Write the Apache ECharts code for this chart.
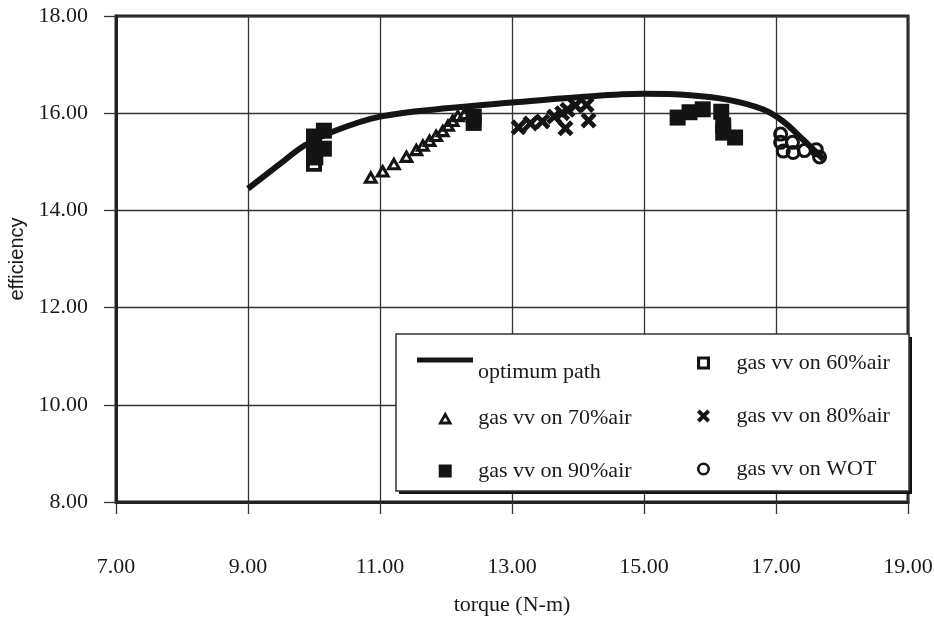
<!DOCTYPE html>
<html>
<head>
<meta charset="utf-8">
<script src="https://cdn.jsdelivr.net/npm/echarts@6/dist/echarts.min.js"></script>
<style>
  html, body { margin: 0; padding: 0; background: #fff; }
  #chart { width: 934px; height: 637px; }
</style>
</head>
<body>
<div id="chart"></div>
<script>
// Axis ticks
const xTicks = [7, 9, 11, 13, 15, 17, 19];
const yTicks = [8, 10, 12, 14, 16, 18];

// Optimum path (torque, efficiency)
const optimumTorque = [9.0, 9.45, 9.85, 10.3, 11.0, 12.0, 13.0, 14.0, 15.0, 15.7, 16.3, 16.8, 17.1, 17.4, 17.72];
const optimumEff    = [14.45, 14.92, 15.33, 15.63, 15.93, 16.1, 16.22, 16.33, 16.4, 16.37, 16.27, 16.08, 15.84, 15.47, 15.05];

// Measured points [torque, efficiency]
const air60 = [[10.0, 14.96]];
const air70 = [
  [10.86, 14.69], [11.04, 14.82], [11.21, 14.97], [11.4, 15.12], [11.55, 15.26],
  [11.65, 15.35], [11.75, 15.45], [11.85, 15.55], [11.95, 15.65], [12.03, 15.76],
  [12.1, 15.86], [12.18, 15.96], [12.28, 16.0]
];
const air80 = [
  [13.1, 15.71], [13.28, 15.79], [13.46, 15.83], [13.64, 15.93], [13.76, 16.0],
  [13.81, 15.69], [13.84, 16.07], [13.96, 16.16], [14.13, 16.17], [14.16, 15.85]
];
const air90 = [
  [10.15, 15.64], [10.0, 15.52], [10.15, 15.27], [10.0, 15.23], [10.02, 15.09],
  [12.42, 15.93], [12.42, 15.8],
  [15.51, 15.91], [15.69, 16.02], [15.89, 16.08], [16.17, 16.03],
  [16.2, 15.75], [16.2, 15.6], [16.38, 15.5]
];
const wot = [
  [17.07, 15.57], [17.07, 15.4], [17.11, 15.22], [17.25, 15.4],
  [17.26, 15.19], [17.43, 15.23], [17.61, 15.25], [17.66, 15.1]
];

const seriesNames = ['optimum path', 'gas vv on 60%air', 'gas vv on 70%air', 'gas vv on 80%air', 'gas vv on 90%air', 'gas vv on WOT'];

const ink = '#141414';
const serif = '"Liberation Serif", "Times New Roman", serif';
const sans = '"Liberation Sans", Arial, sans-serif';

// Marker outlines drawn as filled paths (holes use opposite winding)
const openSquare = 'path://M0,0H10V10H0Z M2.4,2.4V7.6H7.6V2.4Z';
const fullSquare = 'path://M0,0H10V10H0Z';
const openTriangle = 'path://M5,0L10,9L0,9Z M5,4.0L3.3,7.0H6.7Z';
const crossMark = 'path://M0,2.1L2.1,0L5,2.9L7.9,0L10,2.1L7.1,5L10,7.9L7.9,10L5,7.1L2.1,10L0,7.9L2.9,5Z';
const openCircle = 'path://M0,5A5,5,0,0,1,10,5A5,5,0,0,1,0,5Z M2,5A3,3,0,0,0,8,5A3,3,0,0,0,2,5Z';

const legendText = { fontFamily: serif, fontSize: 22, lineHeight: 24, color: '#1a1a1a' };
const legendBase = {
  orient: 'vertical', padding: 0, itemWidth: 56, itemHeight: 13,
  selectedMode: false, z: 10, textStyle: legendText
};

const chart = echarts.init(document.getElementById('chart'), null, { renderer: 'canvas' });

const markStyle = { color: ink, opacity: 1 };

chart.setOption({
  animation: false,
  backgroundColor: '#fff',
  grid: {
    left: 116, top: 16, right: 26, bottom: 135,
    show: true, borderColor: '#222', borderWidth: 3,
    containLabel: false, outerBoundsMode: 'none'
  },
  xAxis: {
    type: 'value',
    min: xTicks[0], max: xTicks[xTicks.length - 1], interval: xTicks[1] - xTicks[0],
    name: 'torque (N-m)', nameLocation: 'middle', nameGap: 92,
    nameTextStyle: { fontFamily: serif, fontSize: 22, color: '#1a1a1a' },
    axisLine: { show: true, onZero: false, lineStyle: { color: '#222', width: 3 } },
    axisTick: { show: true, length: 12, lineStyle: { color: '#333', width: 1.3 } },
    axisLabel: { margin: 54, fontFamily: serif, fontSize: 22, color: '#1a1a1a', formatter: v => v.toFixed(2) },
    splitLine: { show: true, lineStyle: { color: '#333', width: 1.3 } }
  },
  yAxis: {
    type: 'value',
    min: yTicks[0], max: yTicks[yTicks.length - 1], interval: yTicks[1] - yTicks[0],
    name: 'efficiency', nameLocation: 'middle', nameGap: 88,
    nameTextStyle: { fontFamily: sans, fontSize: 20, color: '#1a1a1a' },
    axisLine: { show: true, onZero: false, lineStyle: { color: '#222', width: 3 } },
    axisTick: { show: true, length: 12, lineStyle: { color: '#333', width: 1.3 } },
    axisLabel: { margin: 28, fontFamily: serif, fontSize: 22, color: '#1a1a1a', formatter: v => v.toFixed(2) },
    splitLine: { show: true, lineStyle: { color: '#333', width: 1.3 } }
  },
  graphic: [
    { type: 'rect', z: 5, shape: { x: 399, y: 337, width: 513, height: 157 }, style: { fill: '#111' } },
    { type: 'rect', z: 6, shape: { x: 396, y: 334, width: 513, height: 157 }, style: { fill: '#fff', stroke: '#333', lineWidth: 1.5 } }
  ],
  legend: [
    Object.assign({}, legendBase, {
      left: 417, top: 336, itemHeight: 5,
      data: [{ name: seriesNames[0], icon: 'rect' }],
      itemStyle: { color: ink },
      // label sits half a line below the swatch
      formatter: name => '\n' + name
    }),
    Object.assign({}, legendBase, {
      left: 438, top: 406, itemGap: 29,
      data: [{ name: seriesNames[2], icon: openTriangle }, { name: seriesNames[4], icon: fullSquare }]
    }),
    Object.assign({}, legendBase, {
      left: 697, top: 351, itemGap: 29,
      data: [{ name: seriesNames[1], icon: openSquare }, { name: seriesNames[3], icon: crossMark }, { name: seriesNames[5], icon: openCircle }]
    })
  ],
  series: [
    {
      name: seriesNames[0], type: 'line', smooth: 0.35, symbol: 'none',
      data: optimumTorque.map((t, i) => [t, optimumEff[i]]),
      lineStyle: { color: ink, width: 6 }, itemStyle: markStyle, z: 2
    },
    { name: seriesNames[1], type: 'scatter', data: air60, symbol: openSquare, symbolSize: 16, itemStyle: markStyle, z: 3 },
    { name: seriesNames[2], type: 'scatter', data: air70, symbol: openTriangle, symbolSize: [16, 14], itemStyle: markStyle, z: 3 },
    { name: seriesNames[3], type: 'scatter', data: air80, symbol: crossMark, symbolSize: 16, itemStyle: markStyle, z: 3 },
    { name: seriesNames[4], type: 'scatter', data: air90, symbol: 'rect', symbolSize: 16, itemStyle: markStyle, z: 3 },
    { name: seriesNames[5], type: 'scatter', data: wot, symbol: openCircle, symbolSize: 15, itemStyle: markStyle, z: 3 }
  ]
});
</script>
</body>
</html>
